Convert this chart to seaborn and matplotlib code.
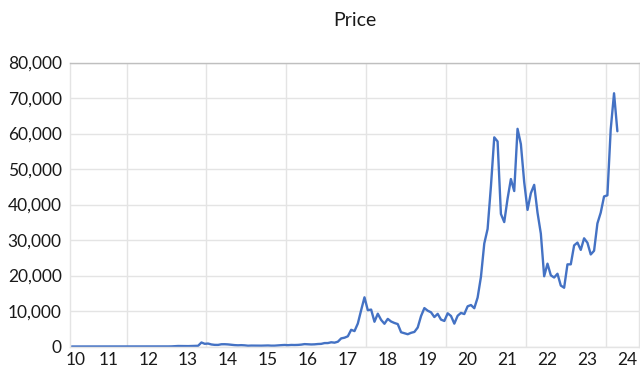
import numpy as np
import pandas as pd
import matplotlib
matplotlib.use("Agg")
import matplotlib.pyplot as plt
import seaborn as sns
from matplotlib.ticker import FuncFormatter

# Monthly closing price (USD), Aug 2010 - Apr 2024
start_month = "2010-08"
price = [
    # 2010 (Aug-Dec)
    0.06, 0.06, 0.19, 0.21, 0.30,
    # 2011
    0.52, 0.86, 0.78, 3.5, 8.7, 16.1, 13.4, 8.2, 5.1, 3.25, 3.0, 4.7,
    # 2012
    5.5, 4.9, 4.9, 5.0, 5.2, 6.7, 9.4, 10.2, 12.4, 11.2, 12.6, 13.5,
    # 2013
    20, 33, 93, 139, 129, 97, 106, 135, 133, 198, 1130, 757,
    # 2014
    830, 573, 458, 448, 628, 640, 585, 482, 387, 338, 378, 320,
    # 2015
    217, 254, 244, 236, 230, 263, 284, 230, 236, 314, 377, 430,
    # 2016
    369, 437, 416, 448, 531, 673, 624, 575, 609, 698, 742, 964,
    # 2017
    970, 1190, 1080, 1348, 2286, 2480, 2875, 4703, 4338, 6468, 10233, 13860,
    # 2018
    10221, 10397, 6973, 9240, 7494, 6404, 7780, 7037, 6625, 6317, 4017, 3742,
    # 2019
    3457, 3854, 4105, 5350, 8574, 10817, 10085, 9630, 8293, 9199, 7569, 7193,
    # 2020
    9350, 8599, 6438, 8658, 9461, 9137, 11323, 11681, 10784, 13781, 19625, 29001,
    # 2021
    33114, 45137, 58918, 57750, 37332, 35041, 41626, 47166, 43790, 61318, 57005, 46306,
    # 2022
    38483, 43193, 45538, 37714, 31792, 19785, 23336, 20050, 19432, 20495, 17168, 16548,
    # 2023
    23139, 23147, 28478, 29268, 27219, 30477, 29230, 25931, 26968, 34668, 37713, 42265,
    # 2024 (Jan-Apr)
    42582, 61198, 71334, 60637,
]

year_labels = ["10", "11", "12", "13", "14", "15", "16", "17", "18", "19",
               "20", "21", "22", "23", "24"]
y_ticks = [0, 10000, 20000, 30000, 40000, 50000, 60000, 70000, 80000]

dates = pd.date_range(start_month, periods=len(price), freq="MS")
df = pd.DataFrame({
    "t": dates.year + (dates.month - 0.5) / 12.0,  # centre of each month
    "price": price,
})

sns.set_theme(style="white")
plt.rcParams["font.family"] = ["Lato", "DejaVu Sans"]
text_color = "#1a1a1a"
grid_color = "#e4e4e4"

fig = plt.figure(figsize=(6.4, 3.71), dpi=100)
ax = fig.add_axes([70 / 640, 1 - 346.5 / 371, 569 / 640, 284 / 371])

sns.lineplot(data=df, x="t", y="price", ax=ax, color="#4472C4",
             linewidth=1.7, legend=False)

# one slot per month, axis runs a few months past the last value
x0 = 2010 + 7 / 12
ax.set_xlim(x0, x0 + 171 / 12)
ax.set_ylim(0, 80000)

# year labels sit mid-year; the first one is nudged inside the frame
label_pos = [2000 + int(s) + 6.5 / 12 for s in year_labels]
label_pos[0] = x0 + 0.13
ax.set_xticks(label_pos)
ax.set_xticklabels(year_labels)
ax.set_xticks(np.arange(2012, 2025, 2), minor=True)

ax.set_yticks(y_ticks)
ax.yaxis.set_major_formatter(FuncFormatter(lambda v, _: f"{int(v):,}"))

ax.grid(False)
ax.grid(True, which="minor", axis="x", color=grid_color, linewidth=1.0)
ax.grid(True, which="major", axis="y", color=grid_color, linewidth=1.0)
ax.set_axisbelow(True)

ax.tick_params(axis="both", which="both", length=0, labelsize=12.5,
               labelcolor=text_color)
ax.tick_params(axis="y", pad=6)
ax.tick_params(axis="x", pad=4)

for side in ("left", "right", "bottom"):
    ax.spines[side].set_color(grid_color)
    ax.spines[side].set_linewidth(1.0)
ax.spines["top"].set_color("#bfbfbf")
ax.spines["top"].set_linewidth(1.0)

ax.set_xlabel("")
ax.set_ylabel("")
fig.text(0.5 * (70 + 639) / 640, 1 - 21 / 371, "Price", ha="center",
         va="center", fontsize=14, color=text_color)

fig.savefig("out.png", dpi=100)
